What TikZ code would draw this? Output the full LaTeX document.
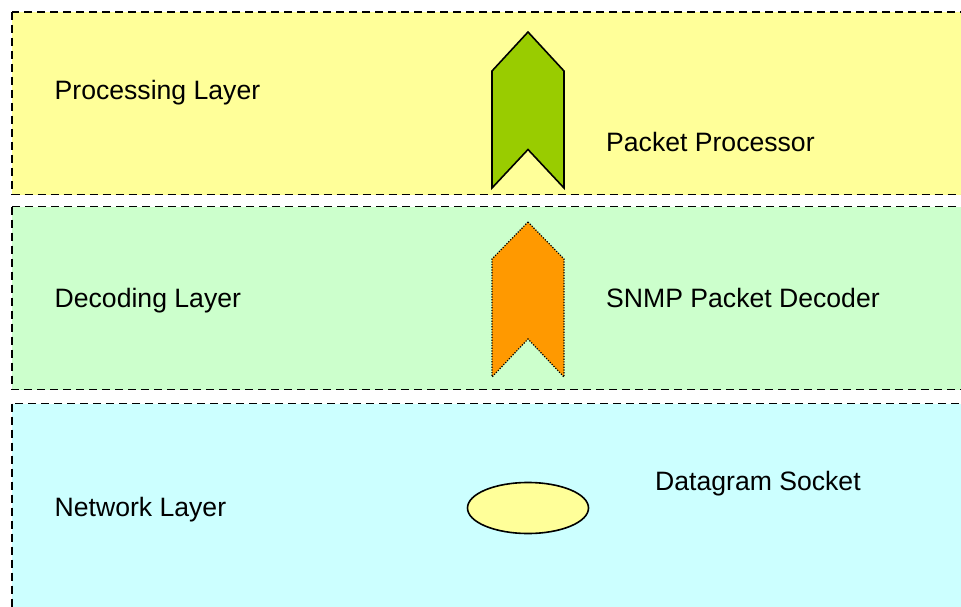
\documentclass[tikz,border=0pt]{standalone}
\usepackage{fontspec}
\setmainfont{Liberation Sans}
\usetikzlibrary{shapes.geometric}
\definecolor{layerY}{HTML}{FFFF99}
\definecolor{layerG}{HTML}{CCFFCC}
\definecolor{layerC}{HTML}{CCFFFF}
\definecolor{chevG}{HTML}{99CC00}
\definecolor{chevO}{HTML}{FF9900}
\begin{document}
\begin{tikzpicture}[x=1pt,y=-1pt,
  layer/.style={draw=black,line width=1.8pt,dash pattern=on 8pt off 5pt},
  lbl/.style={anchor=base west,inner sep=0pt,font=\fontsize{26.6}{30}\selectfont},
  chev/.style={draw=black,line width=1.6pt,line join=miter}]
\useasboundingbox (0,0) rectangle (961,607);
\fill[white] (0,0) rectangle (961,607);
% layers
\path[layer,fill=layerY] (12,12) rectangle (990,194.5);
\path[layer,fill=layerG] (12,206.5) rectangle (990,389.5);
\path[layer,fill=layerC] (12,403.5) rectangle (990,640);
% chevrons
\path[chev,fill=chevG] (528,32) -- (564,71) -- (564,188) -- (528,149.5) -- (492,188) -- (492,71) -- cycle;
\path[draw=black,line width=1.2pt,dash pattern=on 1.2pt off 1.5pt,fill=chevO] (528,222) -- (564,259) -- (564,377) -- (528,339) -- (492,377) -- (492,259) -- cycle;
% ellipse
\node[draw=black,line width=1.6pt,fill=layerY,ellipse,minimum width=121pt,minimum height=51pt,inner sep=0pt] (sock) at (528,508) {};
% labels
\node[lbl] (pl) at (54.5,99.5) {Processing Layer};
\node[lbl] (pp) at (606,151) {Packet Processor};
\node[lbl] (dl) at (54.5,307.5) {Decoding Layer};
\node[lbl] (dd) at (606,307.5) {SNMP Packet Decoder};
\node[lbl] (nl) at (54.5,516.5) {Network Layer};
\node[lbl] (ds) at (655,490.5) {Datagram Socket};
\end{tikzpicture}
\end{document}
